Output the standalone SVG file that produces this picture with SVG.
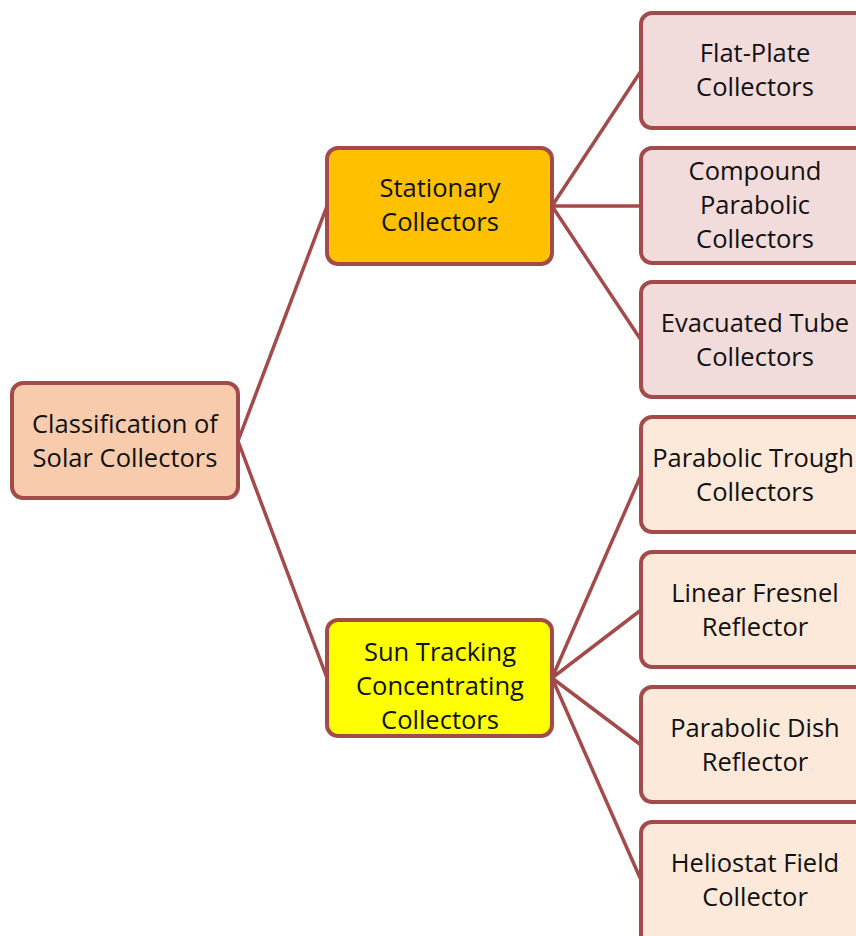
<svg xmlns="http://www.w3.org/2000/svg" width="856" height="936" viewBox="0 0 856 936">
<style>
.b{stroke:#A34A4A;stroke-width:4}
.t{font-family:"Open Sans","Liberation Sans",sans-serif;font-size:25.5px;fill:#111;text-anchor:middle}
.c{stroke:#A34A4A;stroke-width:3.5;fill:none;stroke-linecap:round}
</style>
<rect width="856" height="936" fill="#fff"/>
<g id="connectors">
<path class="c" d="M238,441 L327,206 M238,441 L327,678"/>
<path class="c" d="M552,206 L641,71 M552,206 L641,206 M552,206 L641,340"/>
<path class="c" d="M552,678 L641,475 M552,678 L641,610 M552,678 L641,745 M552,678 L641,880"/>
</g>
<g id="root"><rect class="b" x="12" y="383" width="226" height="115" rx="11" fill="#F9CBAD"/>
<text class="t" x="125" y="433">Classification of</text><text class="t" x="125" y="467">Solar Collectors</text></g>
<g id="stationary"><rect class="b" x="327" y="148" width="225" height="116" rx="11" fill="#FFC000"/>
<text class="t" x="440" y="197">Stationary</text><text class="t" x="440" y="231">Collectors</text></g>
<g id="tracking"><rect class="b" x="327" y="620" width="225" height="116" rx="11" fill="#FFFF00"/>
<text class="t" x="440" y="661">Sun Tracking</text><text class="t" x="440" y="695">Concentrating</text><text class="t" x="440" y="729">Collectors</text></g>
<g id="flatplate"><rect class="b" x="641" y="13" width="240" height="115" rx="11" fill="#F2DCDB"/>
<text class="t" x="755" y="62">Flat-Plate</text><text class="t" x="755" y="96">Collectors</text></g>
<g id="compound"><rect class="b" x="641" y="148" width="240" height="115" rx="11" fill="#F2DCDB"/>
<text class="t" x="755" y="180">Compound</text><text class="t" x="755" y="214">Parabolic</text><text class="t" x="755" y="248">Collectors</text></g>
<g id="evacuated"><rect class="b" x="641" y="282" width="240" height="115" rx="11" fill="#F2DCDB"/>
<text class="t" x="755" y="332">Evacuated Tube</text><text class="t" x="755" y="366">Collectors</text></g>
<g id="trough"><rect class="b" x="641" y="417" width="240" height="115" rx="11" fill="#FDE9D9"/>
<text class="t" x="753" y="467">Parabolic Trough</text><text class="t" x="755" y="501">Collectors</text></g>
<g id="fresnel"><rect class="b" x="641" y="552" width="240" height="115" rx="11" fill="#FDE9D9"/>
<text class="t" x="755" y="602">Linear Fresnel</text><text class="t" x="755" y="636">Reflector</text></g>
<g id="dish"><rect class="b" x="641" y="687" width="240" height="115" rx="11" fill="#FDE9D9"/>
<text class="t" x="755" y="737">Parabolic Dish</text><text class="t" x="755" y="771">Reflector</text></g>
<g id="heliostat"><rect class="b" x="641" y="822" width="240" height="130" rx="11" fill="#FDE9D9"/>
<text class="t" x="755" y="872">Heliostat Field</text><text class="t" x="755" y="906">Collector</text></g>
</svg>
